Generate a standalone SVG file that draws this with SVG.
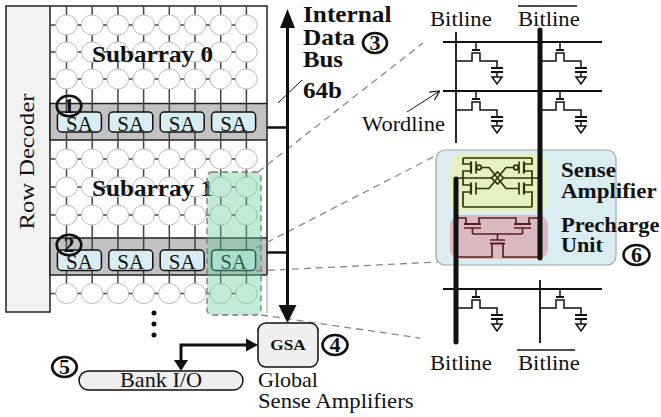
<svg xmlns="http://www.w3.org/2000/svg" width="661" height="417" viewBox="0 0 661 417">
<style>
text{font-family:"Liberation Serif","Times New Roman",serif;fill:#111}
.b{font-weight:bold}
.grid{stroke:#444;stroke-width:1.5;fill:none}
.cellc{fill:#fff;stroke:#bbb;stroke-width:1}
.sa{fill:#d8ecf4;stroke:#111;stroke-width:1.5}
.band{fill:#c2c2c2;stroke:#222;stroke-width:1.5}
.num{fill:none;stroke:#111;stroke-width:2.6}
.dash{stroke:#888;stroke-width:1.3;stroke-dasharray:7 5;fill:none}
.w{stroke:#111;stroke-width:1.8;fill:none}
.thick{stroke:#111;stroke-width:5;fill:none;stroke-linecap:round}
.thin{stroke:#111;stroke-width:1.8;fill:none}
.sac{stroke:#33330a;stroke-width:1.7;fill:none}
.pc{stroke:#5c1f1f;stroke-width:1.7;fill:none}
.con{stroke:#111;stroke-width:3;fill:none}
.r21{font-size:21px}
.b23{font-size:23px;font-weight:bold}
.b20{font-size:20.5px;font-weight:bold}
.d{font-size:20px;font-weight:bold;text-anchor:middle}
.sat{font-size:21px;text-anchor:middle}
</style>
<defs>
<g id="cell" fill="none" stroke="#111" stroke-width="1.5">
<path d="M20,0 V8"/>
<path d="M16,8 H24" stroke-width="2"/>
<path d="M0,19 H16 V11 H24 V19 H41 V26"/>
<path d="M35,26 H47 M35,30 H47" stroke-width="2"/>
<path d="M41,30 V35"/>
<path d="M36,35 H46 L41,42 Z" fill="#fff"/>
</g>
<marker id="open" viewBox="0 0 10 10" refX="9" refY="5" markerWidth="10" markerHeight="10" markerUnits="userSpaceOnUse" orient="auto">
<path d="M0,0 L10,5 L0,10" fill="none" stroke="#111" stroke-width="1.2"/>
</marker>
</defs>
<rect width="661" height="417" fill="#fff"/>

<g id="row-decoder">
<rect x="6" y="6" width="44" height="306" fill="#f2f2f2" stroke="#222" stroke-width="1.5"/>
<text transform="translate(34 161.5) rotate(-90) scale(1.12 1)" font-size="22" text-anchor="middle">Row Decoder</text>
</g>

<g id="subarrays">
<rect class="band" x="50" y="103.5" width="217" height="36.5"/>
<rect class="band" x="50" y="238" width="217" height="37"/>
<path d="M50,6 H267 V103.5 M267,140 V238" stroke="#222" stroke-width="1.5" fill="none"/>
<path d="M267,275 V313" stroke="#bbb" stroke-width="1.5"/>
<g class="grid">
<path d="M66.5,6 V293.5 M92.2,6 V293.5 M117.9,6 V293.5 M143.6,6 V293.5 M169.3,6 V293.5 M195,6 V293.5 M220.7,6 V293.5 M246.4,6 V293.5"/>
<path d="M50,25 H246.4 M50,52 H246.4 M50,79 H246.4 M50,159 H246.4 M50,187 H246.4 M50,215 H246.4 M50,293.5 H246.4"/>
</g>
<g class="cellc">
<ellipse cx="66.5" cy="25" rx="10.8" ry="10"/><ellipse cx="92.2" cy="25" rx="10.8" ry="10"/><ellipse cx="117.9" cy="25" rx="10.8" ry="10"/><ellipse cx="143.6" cy="25" rx="10.8" ry="10"/><ellipse cx="169.3" cy="25" rx="10.8" ry="10"/><ellipse cx="195" cy="25" rx="10.8" ry="10"/><ellipse cx="220.7" cy="25" rx="10.8" ry="10"/><ellipse cx="246.4" cy="25" rx="10.8" ry="10"/>
<ellipse cx="66.5" cy="52" rx="10.8" ry="10"/><ellipse cx="92.2" cy="52" rx="10.8" ry="10"/><ellipse cx="117.9" cy="52" rx="10.8" ry="10"/><ellipse cx="143.6" cy="52" rx="10.8" ry="10"/><ellipse cx="169.3" cy="52" rx="10.8" ry="10"/><ellipse cx="195" cy="52" rx="10.8" ry="10"/><ellipse cx="220.7" cy="52" rx="10.8" ry="10"/><ellipse cx="246.4" cy="52" rx="10.8" ry="10"/>
<ellipse cx="66.5" cy="79" rx="10.8" ry="10"/><ellipse cx="92.2" cy="79" rx="10.8" ry="10"/><ellipse cx="117.9" cy="79" rx="10.8" ry="10"/><ellipse cx="143.6" cy="79" rx="10.8" ry="10"/><ellipse cx="169.3" cy="79" rx="10.8" ry="10"/><ellipse cx="195" cy="79" rx="10.8" ry="10"/><ellipse cx="220.7" cy="79" rx="10.8" ry="10"/><ellipse cx="246.4" cy="79" rx="10.8" ry="10"/>
<ellipse cx="66.5" cy="159" rx="10.8" ry="10"/><ellipse cx="92.2" cy="159" rx="10.8" ry="10"/><ellipse cx="117.9" cy="159" rx="10.8" ry="10"/><ellipse cx="143.6" cy="159" rx="10.8" ry="10"/><ellipse cx="169.3" cy="159" rx="10.8" ry="10"/><ellipse cx="195" cy="159" rx="10.8" ry="10"/><ellipse cx="220.7" cy="159" rx="10.8" ry="10"/><ellipse cx="246.4" cy="159" rx="10.8" ry="10"/>
<ellipse cx="66.5" cy="187" rx="10.8" ry="10"/><ellipse cx="92.2" cy="187" rx="10.8" ry="10"/><ellipse cx="117.9" cy="187" rx="10.8" ry="10"/><ellipse cx="143.6" cy="187" rx="10.8" ry="10"/><ellipse cx="169.3" cy="187" rx="10.8" ry="10"/><ellipse cx="195" cy="187" rx="10.8" ry="10"/><ellipse cx="220.7" cy="187" rx="10.8" ry="10"/><ellipse cx="246.4" cy="187" rx="10.8" ry="10"/>
<ellipse cx="66.5" cy="215" rx="10.8" ry="10"/><ellipse cx="92.2" cy="215" rx="10.8" ry="10"/><ellipse cx="117.9" cy="215" rx="10.8" ry="10"/><ellipse cx="143.6" cy="215" rx="10.8" ry="10"/><ellipse cx="169.3" cy="215" rx="10.8" ry="10"/><ellipse cx="195" cy="215" rx="10.8" ry="10"/><ellipse cx="220.7" cy="215" rx="10.8" ry="10"/><ellipse cx="246.4" cy="215" rx="10.8" ry="10"/>
<ellipse cx="66.5" cy="293.5" rx="10.8" ry="10"/><ellipse cx="92.2" cy="293.5" rx="10.8" ry="10"/><ellipse cx="117.9" cy="293.5" rx="10.8" ry="10"/><ellipse cx="143.6" cy="293.5" rx="10.8" ry="10"/><ellipse cx="169.3" cy="293.5" rx="10.8" ry="10"/><ellipse cx="195" cy="293.5" rx="10.8" ry="10"/><ellipse cx="220.7" cy="293.5" rx="10.8" ry="10"/><ellipse cx="246.4" cy="293.5" rx="10.8" ry="10"/>
</g>
<text class="b23" transform="translate(92 61.5) scale(1.095 1)">Subarray 0</text>
<text class="b23" transform="translate(92 195.5) scale(1.095 1)">Subarray 1</text>
<g id="sa-row-1">
<rect class="sa" x="57.4" y="112" width="44" height="20" rx="4"/><rect class="sa" x="108.8" y="112" width="44" height="20" rx="4"/><rect class="sa" x="160.2" y="112" width="44" height="20" rx="4"/><rect class="sa" x="211.6" y="112" width="44" height="20" rx="4"/>
<text class="sat" x="79.4" y="130.5">SA</text><text class="sat" x="130.8" y="130.5">SA</text><text class="sat" x="182.2" y="130.5">SA</text><text class="sat" x="233.6" y="130.5">SA</text>
</g>
<g id="sa-row-2">
<rect class="sa" x="57.4" y="250" width="44" height="20.5" rx="4"/><rect class="sa" x="108.8" y="250" width="44" height="20.5" rx="4"/><rect class="sa" x="160.2" y="250" width="44" height="20.5" rx="4"/><rect class="sa" x="211.6" y="250" width="44" height="20.5" rx="4"/>
<text class="sat" x="79.4" y="269">SA</text><text class="sat" x="130.8" y="269">SA</text><text class="sat" x="182.2" y="269">SA</text><text class="sat" x="233.6" y="269">SA</text>
</g>
<g id="dots" fill="#111"><circle cx="154" cy="313" r="2.5"/><circle cx="154" cy="324" r="2.5"/><circle cx="154" cy="335" r="2.5"/></g>
</g>

<g id="highlight">
<rect x="207" y="172" width="54" height="143" rx="5" fill="rgb(100,205,150)" fill-opacity="0.4" stroke="#777" stroke-width="1.3" stroke-dasharray="6 4"/>
</g>

<g id="markers">
<ellipse class="num" cx="69" cy="106" rx="12.3" ry="10.3"/><text class="d" transform="translate(69 113) scale(1.1 1)">1</text>
<ellipse class="num" cx="69" cy="245" rx="12.3" ry="10.3"/><text class="d" transform="translate(69 252) scale(1.1 1)">2</text>
<ellipse class="num" cx="375" cy="43" rx="12" ry="10"/><text class="d" transform="translate(375 50) scale(1.1 1)">3</text>
<ellipse class="num" cx="335" cy="345" rx="12.5" ry="10"/><text class="d" transform="translate(335 352) scale(1.1 1)">4</text>
<ellipse class="num" cx="64.5" cy="367" rx="12.3" ry="10"/><text class="d" transform="translate(64.5 374) scale(1.1 1)">5</text>
<ellipse class="num" cx="636.5" cy="255" rx="13" ry="10"/><text class="d" transform="translate(636.5 262) scale(1.1 1)">6</text>
</g>

<g id="zoom-lines">
<path class="dash" d="M258,172 L423,43"/>
<path class="dash" d="M256,248 L437,155"/>
<path class="dash" d="M256,271 L437,262"/>
<path class="dash" d="M261,315 L420,338"/>
</g>

<g id="connectors">
<path class="con" d="M287.5,27 V306"/>
<polygon points="287.5,9 280,28 295,28" fill="#111"/>
<polygon points="287.5,323 278.5,305 296.5,305" fill="#111"/>
<path d="M267,127.5 H287.5 M267,252.5 H287.5" stroke="#111" stroke-width="2.5"/>
<path d="M278,103 L302,80" stroke="#111" stroke-width="1"/>
<path d="M181,361 V345 H248" class="con" stroke-width="2.5"/>
<polygon points="258,345 246,338.5 246,351.5" fill="#111"/>
<polygon points="181,371 174,360 188,360" fill="#111"/>
<path d="M407,112 L439,91.5" stroke="#111" stroke-width="1" marker-end="url(#open)"/>
</g>

<g id="bus-label">
<text class="b23" transform="translate(303 22) scale(1.1 1)">Internal</text>
<text class="b23" transform="translate(303 44.5) scale(1.1 1)">Data</text>
<text class="b23" transform="translate(303 67) scale(1.08 1)">Bus</text>
<text class="b23" transform="translate(303 98) scale(1.09 1)">64b</text>
</g>

<g id="gsa">
<rect x="258" y="323" width="60" height="44" rx="8" fill="#efefef" stroke="#111" stroke-width="1.5"/>
<text transform="translate(288 350) scale(1.15 1)" font-size="15" font-weight="bold" text-anchor="middle">GSA</text>
<text class="r21" transform="translate(258 387) scale(1.05 1)">Global</text>
<text class="r21" transform="translate(258 408) scale(1.08 1)">Sense Amplifiers</text>
</g>

<g id="bank-io">
<rect x="79" y="371" width="164" height="19" rx="9.5" fill="#efefef" stroke="#111" stroke-width="1.5"/>
<text class="r21" transform="translate(161 387) scale(1.06 1)" text-anchor="middle">Bank I/O</text>
</g>

<g id="sa-detail">
<rect x="436" y="150" width="180" height="115" rx="9" fill="#d9edf3" stroke="#9aa8ad" stroke-width="1.2"/>
<rect x="450" y="154" width="98" height="58" rx="10" fill="#e4f1c0"/>
<rect x="450" y="215" width="98" height="44" rx="10" fill="#dbb9c1"/>
<g class="sac">
<path d="M463,158 H532 M463,207 H532"/>
<path d="M463,158 V164 H471 M471,171 H463 V185 H471 M471,192 H463 V207"/>
<path d="M532,158 V164 H524 M524,171 H532 V185 H524 M524,192 H532 V207"/>
<path d="M471,161.5 V173.5 M471,182.5 V194.5 M524,161.5 V173.5 M524,182.5 V194.5" stroke-width="2.2"/>
<path d="M476,161.5 V173.5 M476,182.5 V194.5 M519,161.5 V173.5 M519,182.5 V194.5"/>
<circle cx="479" cy="167.5" r="2.3"/><circle cx="516" cy="167.5" r="2.3"/>
<path d="M481.3,167.5 H489 L506,188.5 H519 M513.7,167.5 H506 L489,188.5 H476"/>
<path d="M454,178 H491.5 M503.5,178 H539"/>
<path d="M497.5,172 L503.5,178 L497.5,184 L491.5,178 Z"/>
</g>
<g class="pc">
<path d="M456,218 H466 V224 M479,224 V218 H516 V224 M529,224 V218 H540"/>
<path d="M464,224 H481 M514,224 H531 M490,243.5 H505" stroke-width="2.2"/>
<path d="M464,228 H481 M514,228 H531 M472.5,228 V234 M522.5,228 V234 M472.5,234 H522.5 M497.5,234 V240 M490,240 H505"/>
<path d="M492,243.5 V257 H456 M503,243.5 V257 H540"/>
</g>
<text class="b20" transform="translate(561 177) scale(1.12 1)">Sense</text>
<text class="b20" transform="translate(561 198) scale(1.12 1)">Amplifier</text>
<text class="b20" transform="translate(561 232) scale(1.1 1)">Precharge</text>
<text class="b20" transform="translate(561 252) scale(1.08 1)">Unit</text>
</g>

<g id="bitline-cells">
<path class="w" d="M443,42 H602 M443,91 H602 M443,289 H602"/>
<path class="thin" d="M456,32 V143 M540,280 V343"/>
<path class="thick" d="M540,30 V258 M456,179 V342"/>
<use href="#cell" x="456" y="42"/><use href="#cell" x="540" y="42"/>
<use href="#cell" x="456" y="91"/><use href="#cell" x="540" y="91"/>
<use href="#cell" x="456" y="289"/><use href="#cell" x="540" y="289"/>
<text class="r21" transform="translate(430 26) scale(1.08 1)">Bitline</text>
<text class="r21" transform="translate(518 26) scale(1.08 1)">Bitline</text>
<path d="M518,6 H577" stroke="#111" stroke-width="1.5"/>
<text class="r21" transform="translate(362 131) scale(1.07 1)">Wordline</text>
<text class="r21" transform="translate(430 370) scale(1.08 1)">Bitline</text>
<text class="r21" transform="translate(518 370) scale(1.08 1)">Bitline</text>
<path d="M517,350 H575" stroke="#111" stroke-width="1.5"/>
</g>
</svg>
